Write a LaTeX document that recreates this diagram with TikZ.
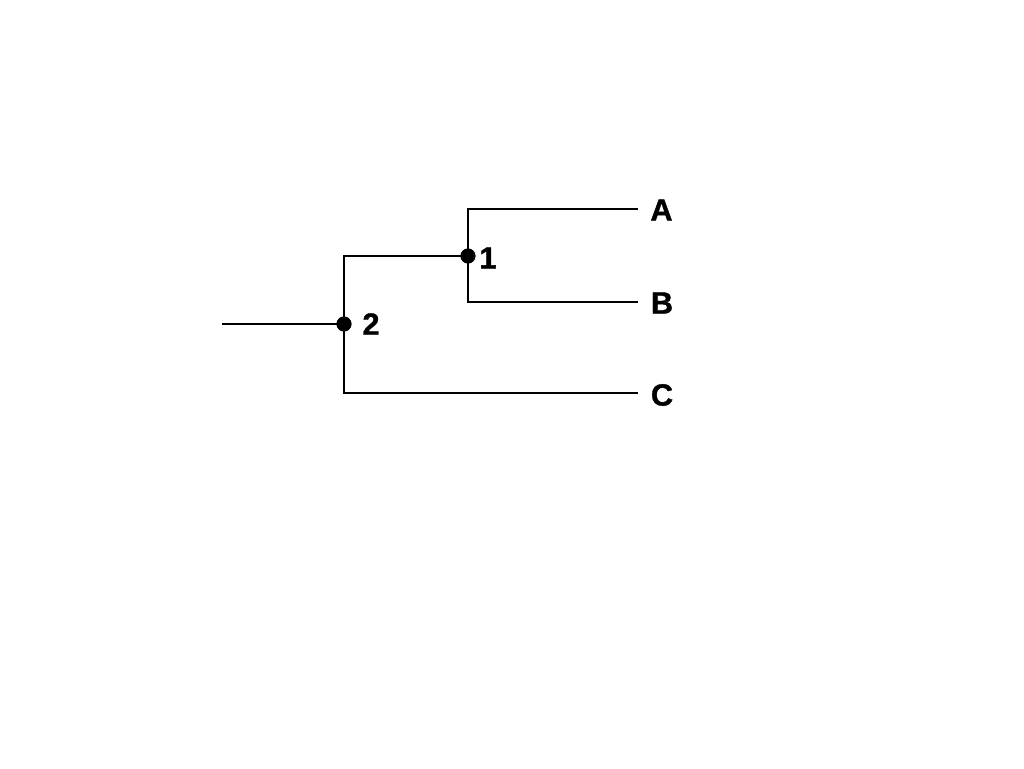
\documentclass[tikz,border=0pt]{standalone}
\usepackage{fontspec}
\setmainfont{Liberation Sans}
\newfontfamily\lblfont[FakeBold=1.2]{Liberation Sans Bold}
\begin{document}
\begin{tikzpicture}[x=0.75pt,y=-0.75pt,
  branch/.style={line width=1.5pt,line cap=rect},
  dotnode/.style={circle,fill=black,inner sep=0pt,minimum size=11.2pt},
  lbl/.style={inner sep=0pt,font=\lblfont\fontsize{23}{27}\selectfont}]
\useasboundingbox (0,0) rectangle (1024,768);
\coordinate (root) at (223,324);
\node[dotnode] (n2) at (344,324) {};
\node[dotnode] (n1) at (468,256) {};
\coordinate (a) at (637,209);
\coordinate (b) at (637,302);
\coordinate (c) at (637,393);
\draw[branch] (root) -- (n2.center);
\draw[branch] (n2.center) |- (n1.center);
\draw[branch] (n2.center) |- (c);
\draw[branch] (n1.center) |- (a);
\draw[branch] (n1.center) |- (b);
\node[dotnode] at (n2) {};
\node[dotnode] at (n1) {};
\node[lbl] (la) at (661.5,210) {A};
\node[lbl] (lb) at (662,303) {B};
\node[lbl] (lc) at (662,395) {C};
\node[lbl] (l1) at (488,258) {1};
\node[lbl] (l2) at (371,324) {2};
\end{tikzpicture}
\end{document}
